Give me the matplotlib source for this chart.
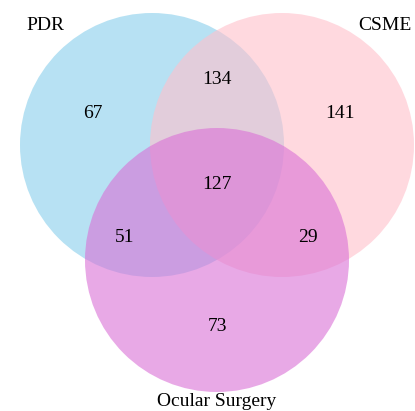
import matplotlib
matplotlib.use("Agg")
import matplotlib.pyplot as plt
from matplotlib.patches import Circle

# Set names and region counts
set_names = ["PDR", "CSME", "Ocular Surgery"]
set_colors = ["skyblue", "pink", "orchid"]
region_keys = ["100", "010", "001", "110", "101", "011", "111"]
region_counts = [67, 141, 73, 134, 51, 29, 127]

# Layout (pixel coordinates, y down)
W, H = 415, 411
centers = [(152, 145), (282, 145), (217, 260)]
radius = 132
label_pos = [(45, 26), (385, 26), (217, 401)]
region_pos = {
    "100": (93, 113), "010": (340, 113), "001": (217, 326),
    "110": (217, 79), "101": (125, 237), "011": (308, 237),
    "111": (217, 184),
}

fig = plt.figure(figsize=(W / 100, H / 100), dpi=100)
ax = fig.add_axes([0, 0, 1, 1])
ax.set_xlim(0, W)
ax.set_ylim(H, 0)
ax.set_aspect("equal")
ax.axis("off")

plt.rcParams["font.family"] = ["Liberation Serif", "DejaVu Serif"]

for (cx, cy), col in zip(centers, set_colors):
    ax.add_patch(Circle((cx, cy), radius, facecolor=col, edgecolor="none", alpha=0.6))

for name, (x, y) in zip(set_names, label_pos):
    ax.text(x, y, name, ha="center", va="center", fontsize=14, family="Liberation Serif")

for key, n in zip(region_keys, region_counts):
    x, y = region_pos[key]
    ax.text(x, y, str(n), ha="center", va="center", fontsize=14, family="Liberation Serif")

fig.savefig("out.png", dpi=100)
